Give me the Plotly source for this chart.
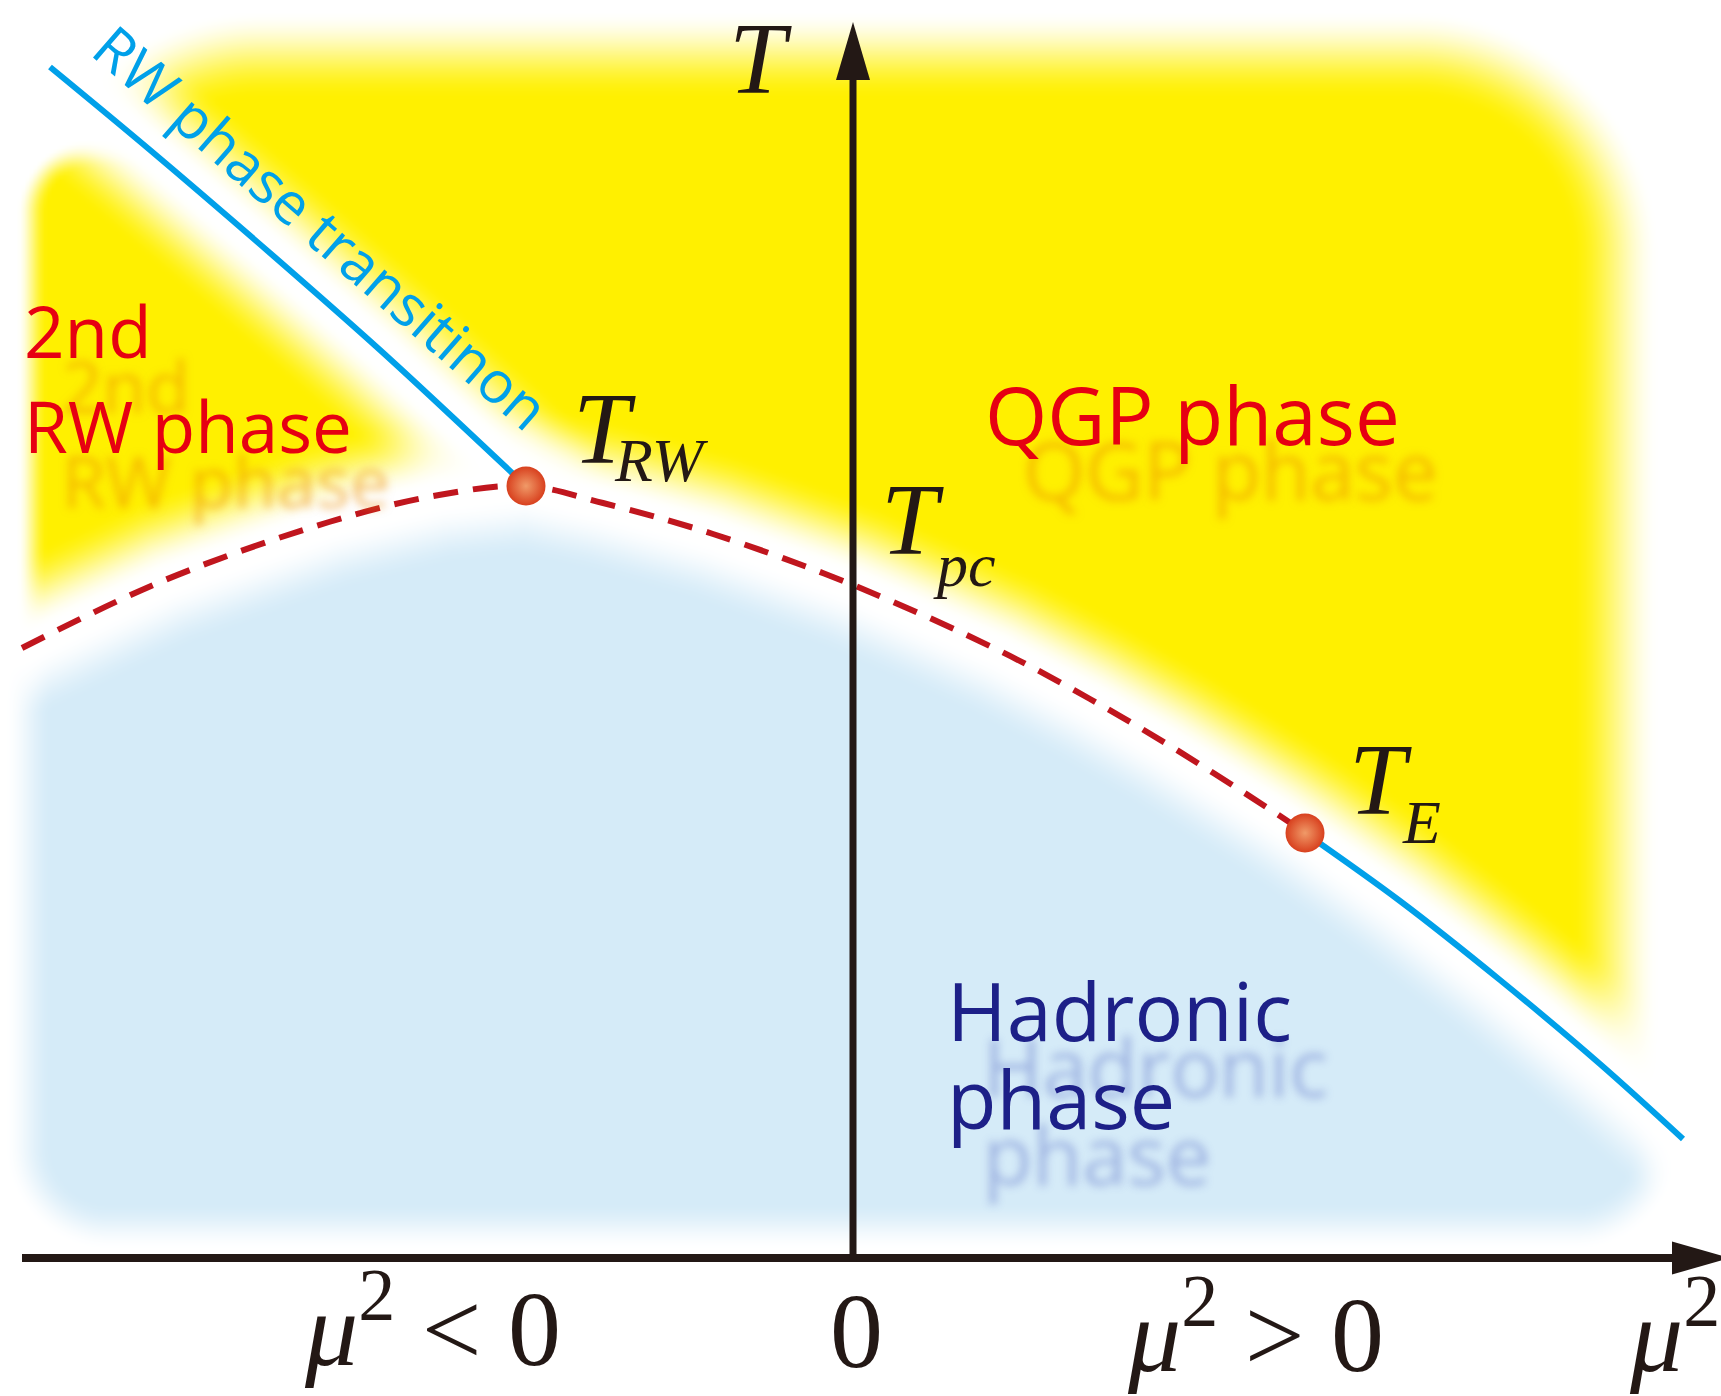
import numpy as np
import plotly.graph_objects as go

# ---------------- schematic data (mu^2 horizontal, T vertical; axes cross at 0,0) ----------------
rw_line_mu2 = [-8.03, -7.03, -5.83, -4.73, -3.93, -3.27]
rw_line_T = [11.91, 11.08, 10.05, 9.08, 8.34, 7.72]

crossover_left_mu2 = [-8.31, -6.88, -5.24, -4.14, -3.27]
crossover_left_T = [6.10, 6.78, 7.36, 7.63, 7.72]
crossover_right_mu2 = [-3.27, -2.50, -1.40, 0.00, 1.47, 2.37, 3.14, 4.24, 4.52]
crossover_right_T = [7.72, 7.55, 7.24, 6.73, 6.07, 5.59, 5.14, 4.44, 4.25]

first_order_mu2 = [4.52, 5.47, 6.47, 7.47, 8.30]
first_order_T = [4.25, 3.57, 2.78, 1.94, 1.19]

endpoint_names = ["T_RW", "T_E"]
endpoint_mu2 = [-3.27, 4.52]
endpoint_T = [7.72, 4.25]

mu2_axis_start, mu2_axis_end = -8.31, 8.19
T_axis_start, T_axis_end = 0.0, 11.78

# ---------------- layout helpers ----------------
W, H = 1721, 1396
OX, OY, PPU = 853.0, 1258.0, 100.0   # pixel of origin, pixels per unit
XR = [(0 - OX) / PPU, (W - OX) / PPU]
YR = [(OY - H) / PPU, (OY - 0) / PPU]


def dx(px):
    return (px - OX) / PPU


def dy(py):
    return (OY - py) / PPU


def to_px(v):
    return OX + PPU * np.asarray(v, dtype=float)


def to_py(v):
    return OY - PPU * np.asarray(v, dtype=float)


# ---------------- soft background (phase regions) ----------------
def smooth(e0, e1, v):
    t = np.clip((v - e0) / (e1 - e0), 0.0, 1.0)
    return t * t * (3 - 2 * t)


def poly_dist(X, Y, xs, ys):
    d = np.full(X.shape, np.inf)
    for ax_, ay_, bx_, by_ in zip(xs[:-1], ys[:-1], xs[1:], ys[1:]):
        vx, vy = bx_ - ax_, by_ - ay_
        t = np.clip(((X - ax_) * vx + (Y - ay_) * vy) / (vx * vx + vy * vy), 0, 1)
        d = np.minimum(d, np.hypot(X - ax_ - t * vx, Y - ay_ - t * vy))
    return d


def round_box(X, Y, x0, x1, y0, y1, r):
    cx, cy = (x0 + x1) / 2, (y0 + y1) / 2
    bx, by = (x1 - x0) / 2, (y1 - y0) / 2
    qx = np.abs(X - cx) - bx + r
    qy = np.abs(Y - cy) - by + r
    return np.hypot(np.maximum(qx, 0), np.maximum(qy, 0)) + np.minimum(np.maximum(qx, qy), 0) - r


bnd_x = to_px(crossover_left_mu2 + crossover_right_mu2[1:] + first_order_mu2[1:])
bnd_y = to_py(crossover_left_T + crossover_right_T[1:] + first_order_T[1:])
rw_x = to_px(rw_line_mu2)
rw_y = to_py(rw_line_T)

gx = np.arange(0, W + 1, 4.0)
gy = np.arange(0, H + 2, 4.0)
X, Y = np.meshgrid(gx, gy)
yb = np.interp(X, bnd_x, bnd_y)
below = Y > yb
db = poly_dist(X, Y, bnd_x, bnd_y)
drw = poly_dist(X, Y, rw_x, rw_y)
side = (X - rw_x[0]) * (rw_y[-1] - rw_y[0]) - (Y - rw_y[0]) * (rw_x[-1] - rw_x[0])
qgp_box = smooth(-45, 45, -round_box(X, Y, 60, 1614, 55, 1500, 200))
rw2_box = smooth(-15, 15, -round_box(X, Y, 32, 1100, 153, 1500, 60))
yel = np.where(side > 0, qgp_box, rw2_box) * smooth(12, 85, drw) * smooth(10, 85, db) * (~below)
blu = smooth(-24, 24, -round_box(X, Y, 28, 1655, -200, 1226, 80)) * smooth(10, 70, db) * below
zfield = (yel - blu).astype(np.float32)[::-1]

fig = go.Figure()
fig.add_trace(go.Heatmap(
    x=dx(gx), y=dy(gy)[::-1], z=zfield, zmin=-1, zmax=1, zsmooth="best",
    colorscale=[[0, "#D5EBF8"], [0.5, "#FFFFFF"], [1, "#FFF000"]],
    showscale=False, hoverinfo="skip"))

RED = "#C0161E"
CYAN = "#00A0E9"
INK = "#231815"

fig.add_trace(go.Scatter(x=crossover_left_mu2 + crossover_right_mu2[1:],
                         y=crossover_left_T + crossover_right_T[1:],
                         mode="lines", line=dict(color=RED, width=6, dash="25px,15px", shape="spline", smoothing=1.0),
                         hoverinfo="skip"))
fig.add_trace(go.Scatter(x=rw_line_mu2, y=rw_line_T, mode="lines",
                         line=dict(color=CYAN, width=6, shape="spline", smoothing=1.0), hoverinfo="skip"))
fig.add_trace(go.Scatter(x=first_order_mu2, y=first_order_T, mode="lines",
                         line=dict(color=CYAN, width=6, shape="spline", smoothing=1.0), hoverinfo="skip"))
fig.add_trace(go.Scatter(x=endpoint_mu2, y=endpoint_T, mode="markers", text=endpoint_names,
                         marker=dict(size=39, color="#D8401E", line=dict(width=0),
                                     gradient=dict(type="radial", color="#F09A68")),
                         hoverinfo="skip"))

# ---------------- axes with arrows ----------------
shapes = [
    dict(type="line", xref="x", yref="y", x0=mu2_axis_start, x1=mu2_axis_end, y0=0, y1=0,
         line=dict(color=INK, width=8)),
    dict(type="line", xref="x", yref="y", x0=0, x1=0, y0=T_axis_start - 0.04, y1=T_axis_end,
         line=dict(color=INK, width=7)),
]
ah_len, ah_half = 0.58, 0.17
shapes.append(dict(type="path", xref="x", yref="y", fillcolor=INK, line=dict(width=0),
                   path=f"M {-ah_half} {T_axis_end} L {ah_half} {T_axis_end} L 0 {T_axis_end + ah_len} Z"))
shapes.append(dict(type="path", xref="x", yref="y", fillcolor=INK, line=dict(width=0),
                   path=f"M {mu2_axis_end} {-ah_half + 0.005} L {mu2_axis_end} {ah_half - 0.005} "
                        f"L {mu2_axis_end + ah_len} 0 Z"))

# ---------------- text ----------------
ann = []


def add(text, px, py, size, color, family, xa="left", ya="top", angle=0, shadow=None):
    f = dict(size=size, color=color, family=family)
    if shadow:
        f["shadow"] = shadow
    ann.append(dict(text=text, x=dx(px), y=dy(py), xref="x", yref="y", showarrow=False,
                    xanchor=xa, yanchor=ya, textangle=angle, font=f, borderpad=0))


SANS = "Open Sans"
SERIF = "Liberation Serif"
SH_OR = "38px 55px 9px rgba(236,135,0,0.5)"
SH_BL = "36px 56px 9px rgba(60,80,185,0.35)"

add("2nd", 23, 357 - 1.069 * 71, 71, "#E60012", SANS, shadow=SH_OR)
add("RW phase", 23, 452 - 1.069 * 71, 71, "#E60012", SANS, shadow=SH_OR)
add("QGP phase", 984, 444 - 1.069 * 80, 80, "#E60012", SANS, shadow=SH_OR)
add("Hadronic", 946, 1040 - 1.069 * 81, 81, "#1D2088", SANS, shadow=SH_BL)
add("phase", 946, 1128 - 1.069 * 81, 81, "#1D2088", SANS, shadow=SH_BL)
add("RW phase transitinon", 322, 226, 58, CYAN, SANS, xa="center", ya="middle", angle=41)

TS, SS = 102, 62
add("<i>T</i>", 728, 92 - 0.891 * TS, TS, INK, SERIF)
add("<i>T</i>", 572, 462 - 0.891 * TS, TS, INK, SERIF)
add("<i>RW</i>", 613, 480 - 0.891 * SS, SS, INK, SERIF)
add("<i>T</i>", 880, 553 - 0.891 * TS, TS, INK, SERIF)
add("<i>pc</i>", 932, 585 - 0.891 * SS, SS, INK, SERIF)
add("<i>T</i>", 1348, 813 - 0.891 * TS, TS, INK, SERIF)
add("<i>E</i>", 1401, 842 - 0.891 * SS, SS, INK, SERIF)

BS = 106
add("<i>μ</i><sup>2</sup> &lt; 0", 432, 1366 + 0.216 * BS, BS, INK, SERIF, xa="center", ya="bottom")
add("0", 856, 1368 + 0.216 * BS, BS, INK, SERIF, xa="center", ya="bottom")
add("<i>μ</i><sup>2</sup> &gt; 0", 1255, 1372 + 0.216 * BS, BS, INK, SERIF, xa="center", ya="bottom")
add("<i>μ</i><sup>2</sup>", 1628, 1372 + 0.216 * BS, BS, INK, SERIF, xa="left", ya="bottom")

fig.update_layout(
    width=W, height=H, autosize=False,
    margin=dict(l=0, r=0, t=0, b=0, pad=0),
    paper_bgcolor="white", plot_bgcolor="white",
    showlegend=False, hovermode=False,
    xaxis=dict(range=XR, visible=False, fixedrange=True),
    yaxis=dict(range=YR, visible=False, fixedrange=True),
    shapes=shapes, annotations=ann,
)
fig.write_html("out.html", config={"displayModeBar": False})
